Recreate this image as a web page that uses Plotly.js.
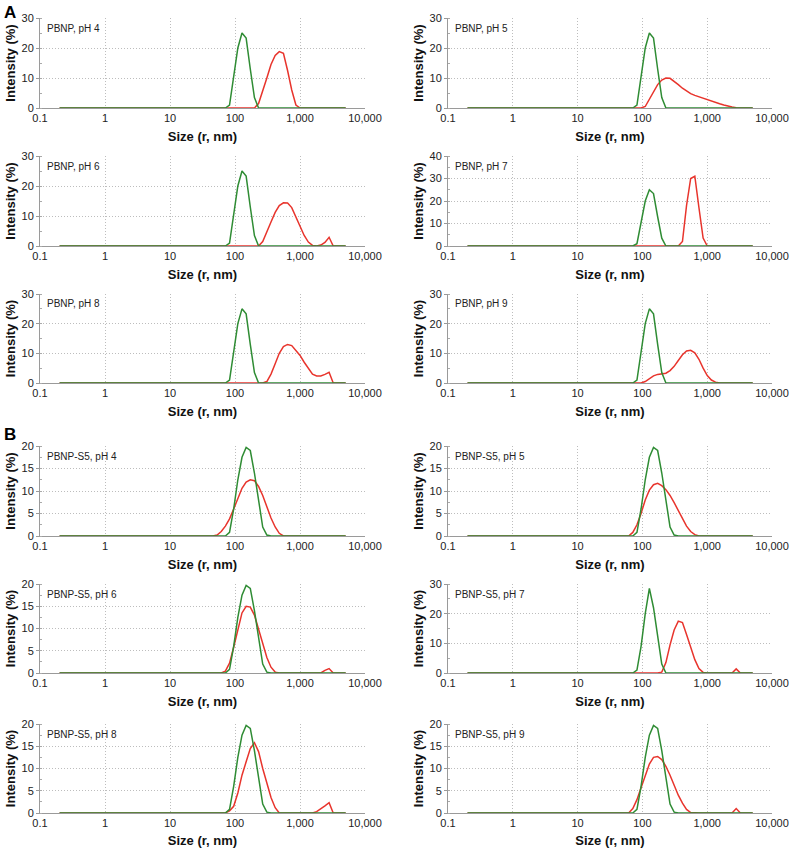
<!DOCTYPE html>
<html><head><meta charset="utf-8">
<script src="https://cdn.plot.ly/plotly-3.0.1.min.js"></script>
<style>html,body{margin:0;padding:0;background:#fff}</style>
</head><body><div id="chart" style="width:790px;height:848px"></div>
<script>
// Size classes (radius, nm)
const sizeR = [0.2, 45.8, 53.0, 61.4, 71.1, 82.4, 95.4, 110.6, 128.1, 148.4, 171.9, 199.0, 230.5, 267, 309, 358, 415, 480, 556, 644, 746, 865, 1002, 1160, 1344, 1557, 1803, 2089, 2419, 2802, 3245, 3759, 4354, 5043];

// Green reference curves
const greenA  = [0,0,0,0,0, 1,11,20,25,23.3, 13,3.5,0,0,0, 0,0,0,0,0, 0,0,0,0,0, 0,0,0,0,0, 0,0,0,0];
const greenB  = [0,0,0,0,0, 0.8,6,12.5,17.5,19.7, 19,14,7.5,2,0.2, 0,0,0,0,0, 0,0,0,0,0, 0,0,0,0,0, 0,0,0,0];
const greenB7 = [0,0,0,0,0, 1,9,20,28.5,22, 12,3,0,0,0, 0,0,0,0,0, 0,0,0,0,0, 0,0,0,0,0, 0,0,0,0];

// Red curves
const redA4 = [0,0,0,0,0, 0,0,0,0,0, 0,0,1.5,5.5,10, 14.5,17.5,18.8,18.2,12.5, 6,1,0,0,0, 0,0,0,0,0, 0,0,0,0];
const redA5 = [0,0,0,0,0, 0,0,0.5,3,5.5, 7.8,9.3,10,9.9,9, 7.8,6.6,5.6,4.8,4.2, 3.7,3.2,2.8,2.3,1.9, 1.4,1,0.6,0.3,0.1, 0,0,0,0];
const redA6 = [0,0,0,0,0, 0,0,0,0,0, 0,0,0,1.5,4.5, 8,11.2,13.5,14.4,14.3, 12.8,9.5,6.5,3.5,1.3, 0.2,0,0.3,1.2,2.9, 0,0,0,0];
const redA7 = [0,0,0,0,0, 0,0,0,0,0, 0,0,0,0,0, 0,2,18,30,31, 17,3.5,0,0,0, 0,0,0,0,0, 0,0,0,0];
const redA8 = [0,0,0,0,0, 0,0,0,0,0, 0,0,0,0,0.5, 3,6.5,10,12.3,13, 12.6,11,9.3,7,4.8, 3,2.4,2.4,2.9,3.6, 0,0,0,0];
const redA9 = [0,0,0,0,0, 0,0,0.5,1.5,2.4, 2.9,3,3.3,4.2,5.6, 7.6,9.5,10.8,11,10.2, 8,5,2.5,1,0.3, 0,0,0,0,0, 0,0,0,0];
const redB4 = [0,0,0.2,1,2.2, 3.8,6,8.5,10.6,12, 12.5,12.3,11,9,6.5, 4,2,0.6,0,0, 0,0,0,0,0, 0,0,0,0,0, 0,0,0,0];
const redB5 = [0,0,0,0,0.8, 2.5,5,8,10.2,11.4, 11.7,11.2,10.3,9,7.4, 5.6,3.7,2.2,1,0.3, 0,0,0,0,0, 0,0,0,0,0, 0,0,0,0];
const redB6 = [0,0,0,0,0.4, 2.2,5.8,10,13.5,15, 14.8,13,10,6.5,3.5, 1.3,0.2,0,0,0, 0,0,0,0,0, 0,0,0,0.6,1, 0,0,0,0];
const redB7 = [0,0,0,0,0, 0,0,0,0,0, 0,0.3,3.5,9.5,14.5, 17.5,17,13,8.5,4.5, 1.5,0.2,0,0,0, 0,0,0,0,1.4, 0,0,0,0];
const redB8 = [0,0,0,0,0, 0.5,1.5,4.5,8.5,11.5, 14.5,15.8,13.8,10,6.5, 3.5,1.2,0,0,0, 0,0,0,0,0, 0,0.3,0.9,1.6,2.3, 0,0,0,0];
const redB9 = [0,0,0,0,1, 3,5.7,8.5,11,12.5, 12.7,12,10.5,8.5,6.2, 4,2.2,0.8,0.1,0, 0,0,0,0,0, 0,0,0,0,1, 0,0,0,0];

const panelLabels = ['PBNP, pH 4','PBNP, pH 5','PBNP, pH 6','PBNP, pH 7','PBNP, pH 8','PBNP, pH 9',
                     'PBNP-S5, pH 4','PBNP-S5, pH 5','PBNP-S5, pH 6','PBNP-S5, pH 7','PBNP-S5, pH 8','PBNP-S5, pH 9'];
const redSeries   = [redA4, redA5, redA6, redA7, redA8, redA9, redB4, redB5, redB6, redB7, redB8, redB9];
const greenSeries = [greenA, greenA, greenA, greenA, greenA, greenA, greenB, greenB, greenB, greenB7, greenB, greenB];
const yMax  = [30,30,30,40,30,30,20,20,20,30,20,20];
const yStep = [10,10,10,10,10,10,5,5,5,10,5,5];
const xTickVals = [0.1, 1, 10, 100, 1000, 10000];
const xTickText = ['0.1','1','10','100','1,000','10,000'];
const xTitle = 'Size (r, nm)';
const yTitle = 'Intensity (%)';
const sectionLabels = ['A','B'];

// Layout geometry (pixels)
const W = 790, H = 848;
const colPx = [[40,365],[448,772]];
const rowPx = [[18,108],[156,246],[294,383],[446,536],[584,673],[724,813]];
const FONT = 'Arial, "Liberation Sans", sans-serif';
const GREEN = '#2f8c34', RED = '#e8342c';
const GRID = '#bdbdbd', AXIS = '#9a9a9a';

const traces = [];
const layout = {
  width: W, height: H, margin: {l:0,r:0,t:0,b:0},
  paper_bgcolor: '#fff', plot_bgcolor: '#fff', showlegend: false,
  font: {family: FONT, size: 11, color: '#222'},
  annotations: []
};

for (let i = 0; i < 12; i++) {
  const n = i + 1;
  const col = i % 2, row = Math.floor(i / 2);
  const xa = 'x' + (n === 1 ? '' : n), ya = 'y' + (n === 1 ? '' : n);
  const xk = 'xaxis' + (n === 1 ? '' : n), yk = 'yaxis' + (n === 1 ? '' : n);
  traces.push({x: sizeR, y: redSeries[i], xaxis: xa, yaxis: ya, type: 'scatter', mode: 'lines',
               line: {color: RED, width: 1.5}, hoverinfo: 'skip', cliponaxis: false});
  traces.push({x: sizeR, y: greenSeries[i], xaxis: xa, yaxis: ya, type: 'scatter', mode: 'lines',
               line: {color: GREEN, width: 1.5}, hoverinfo: 'skip', cliponaxis: false});
  layout[xk] = {
    domain: [colPx[col][0]/W, colPx[col][1]/W], anchor: ya, type: 'log', range: [-1, 4],
    tickvals: xTickVals, ticktext: xTickText, tickfont: {size: 11, color: '#222'},
    showgrid: true, gridcolor: GRID, griddash: '1px,2px', gridwidth: 1,
    showline: true, linecolor: AXIS, linewidth: 1, ticks: '', zeroline: false, layer: 'below traces',
    title: {text: xTitle, font: {size: 13, weight: 'bold', color: '#111'}, standoff: 8},
    automargin: false, fixedrange: true
  };
  layout[yk] = {
    domain: [1 - rowPx[row][1]/H, 1 - rowPx[row][0]/H], anchor: xa,
    range: [0, yMax[i]], dtick: yStep[i], tick0: 0, tickfont: {size: 11, color: '#222'},
    showgrid: true, gridcolor: GRID, griddash: '1px,2px', gridwidth: 1,
    showline: true, linecolor: AXIS, linewidth: 1, ticks: 'outside', ticklen: 3, tickcolor: AXIS,
    zeroline: false, layer: 'below traces',
    minor: {ticks: 'inside', ticklen: 2, tickcolor: '#aaa', dtick: yStep[i]/2, showgrid: false},
    title: {text: yTitle, font: {size: 13, weight: 'bold', color: '#111'}, standoff: 2},
    automargin: false, fixedrange: true
  };
  layout.annotations.push({
    text: panelLabels[i], xref: 'paper', yref: 'paper',
    x: (colPx[col][0] + 5)/W, y: 1 - (rowPx[row][0] + 10)/H, xanchor: 'left', yanchor: 'middle',
    showarrow: false, font: {size: 10, color: '#222'}
  });
}
layout.annotations.push({text: sectionLabels[0], xref:'paper', yref:'paper', x: 2/W, y: 1 - 1/H,
  xanchor:'left', yanchor:'top', showarrow:false, font:{size:17, weight:'bold', color:'#000'}});
layout.annotations.push({text: sectionLabels[1], xref:'paper', yref:'paper', x: 2/W, y: 1 - 423/H,
  xanchor:'left', yanchor:'top', showarrow:false, font:{size:17, weight:'bold', color:'#000'}});

Plotly.newPlot('chart', traces, layout, {staticPlot: true, displayModeBar: false});
</script></body></html>
